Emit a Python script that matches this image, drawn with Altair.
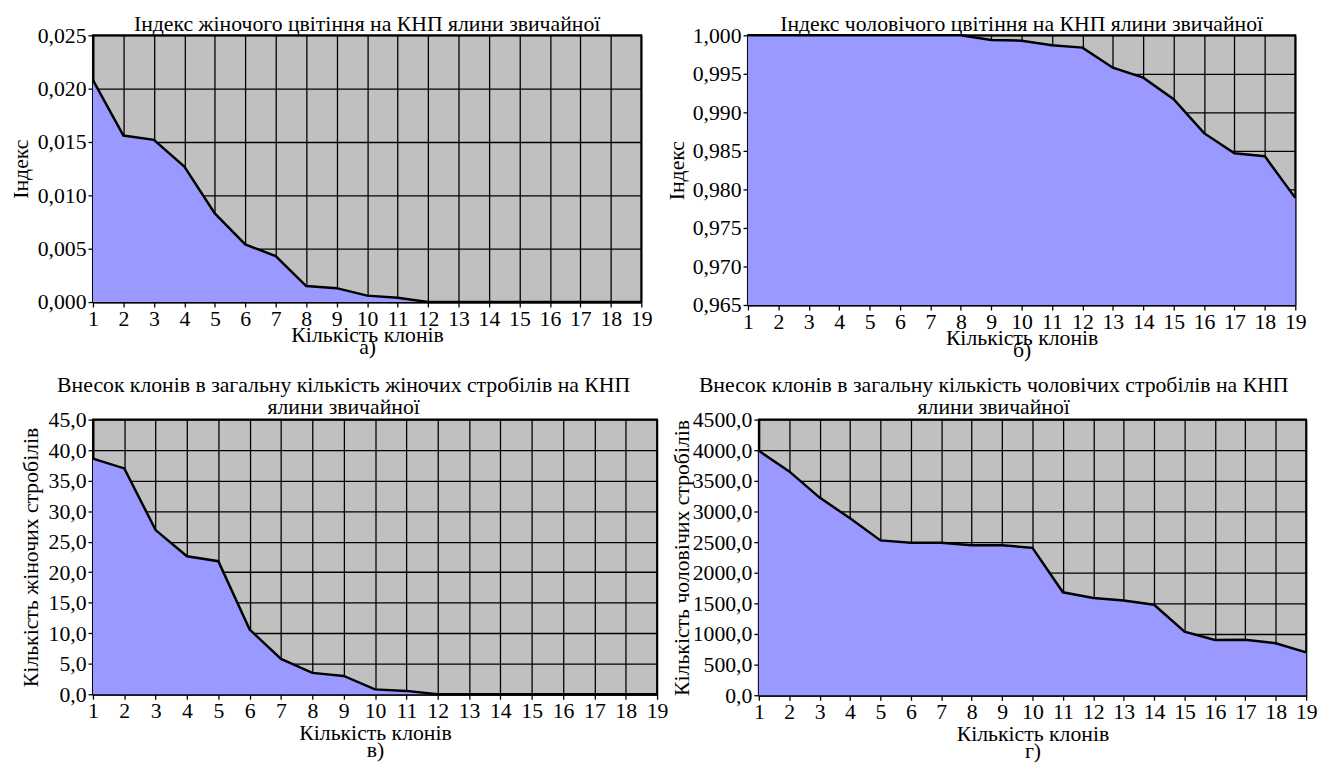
import altair as alt
import pandas as pd

clones = list(range(1, 20))
female_index = [0.0208, 0.0156, 0.0152, 0.0127, 0.0083, 0.0054, 0.0043, 0.0015,
                0.0013, 0.0006, 0.0004, 0.0, 0.0, 0.0, 0.0, 0.0, 0.0, 0.0, 0.0]
male_index = [1.0, 1.0, 1.0, 1.0, 1.0, 1.0, 1.0, 1.0, 0.9994, 0.9993, 0.9987,
              0.9984, 0.9958, 0.9945, 0.9917, 0.9873, 0.9847, 0.9843, 0.9789]
female_strobili = [38.6, 37.0, 26.9, 22.6, 21.8, 10.6, 5.8, 3.5, 3.0, 0.8, 0.55,
                   0.0, 0.0, 0.0, 0.0, 0.0, 0.0, 0.0, 0.0]
male_strobili = [3990, 3655, 3227, 2889, 2528, 2491, 2490, 2448, 2450, 2406, 1681,
                 1589, 1546, 1477, 1037, 902, 905, 849, 699]

FONT = "Liberation Serif"
FS = 22


def panel(values, ymin, ymax, step, decimals, title, tfs, ytitle, letter, w, h,
          xline, xtpad, ytpad, toff, frame):
    df = pd.DataFrame({"x": clones, "y": values})
    ticks = [round(ymin + i * step, 6) for i in range(int(round((ymax - ymin) / step)) + 1)]
    x = alt.X("x:Q", scale=alt.Scale(domain=[1, 19], nice=False, zero=False),
              axis=alt.Axis(values=clones, title=["Кількість клонів", letter],
                            titleLineHeight=xline, titlePadding=xtpad,
                            labelFlush=False, labelPadding=2))
    y = alt.Y("y:Q", scale=alt.Scale(domain=[ymin, ymax], nice=False, zero=False),
              axis=alt.Axis(values=ticks, title=ytitle, titlePadding=ytpad,
                            labelPadding=2,
                            labelExpr=f"replace(format(datum.value, '.{decimals}f'), '.', ',')"))
    tp = dict(text=title, font=FONT, fontSize=tfs, fontWeight="normal",
              color="black", anchor="middle", frame=frame, offset=toff)
    if isinstance(title, list):
        tp["lineHeight"] = 22
    return alt.Chart(df, title=alt.TitleParams(**tp)).mark_area(
        color="#9999FF", opacity=1,
        line={"color": "black", "strokeWidth": 2.5}
    ).encode(x=x, y=y, y2=alt.datum(ymin)).properties(width=w, height=h)


a = panel(female_index, 0.0, 0.025, 0.005, 3,
          "Індекс жіночого цвітіння на КНП ялини звичайної", 22, "Індекс", "а)",
          555, 270, 12, -5, 5, -12, "group")
b = panel(male_index, 0.965, 1.0, 0.005, 3,
          "Індекс чоловічого цвітіння на КНП ялини звичайної", 22, "Індекс", "б)",
          554, 273, 12, -5, 4, -12, "group")
c = panel(female_strobili, 0.0, 45.0, 5.0, 1,
          ["Внесок клонів в загальну кількість жіночих стробілів на КНП",
           "ялини звичайної"], 22, "Кількість жіночих стробілів", "в)",
          571, 278, 17, 1, 6, -10, "bounds")
d = panel(male_strobili, 0.0, 4500.0, 500.0, 1,
          ["Внесок клонів в загальну кількість чоловічих стробілів на КНП",
           "ялини звичайної"], 22, "Кількість чоловічих стробілів", "г)",
          554, 279, 17, 1, -1, -10, "bounds")

chart = alt.vconcat(
    alt.hconcat(a, b, spacing=11),
    alt.hconcat(c, d, spacing=0),
    spacing=12,
).properties(background="white", padding=0).configure_view(
    fill="#C0C0C0", stroke="black", strokeWidth=2
).configure_title(
    font=FONT, fontWeight="normal", color="black"
).configure_axis(
    grid=True, gridColor="black", gridWidth=1.3, gridOpacity=1,
    domainColor="black", domainWidth=2, tickColor="black", tickSize=5,
    tickWidth=1.3,
    labelFont=FONT, labelFontSize=FS, labelColor="black",
    titleFont=FONT, titleFontSize=FS, titleFontWeight="normal", titleColor="black",
)

chart.save("out.html", embed_options={"renderer": "svg", "actions": False})
